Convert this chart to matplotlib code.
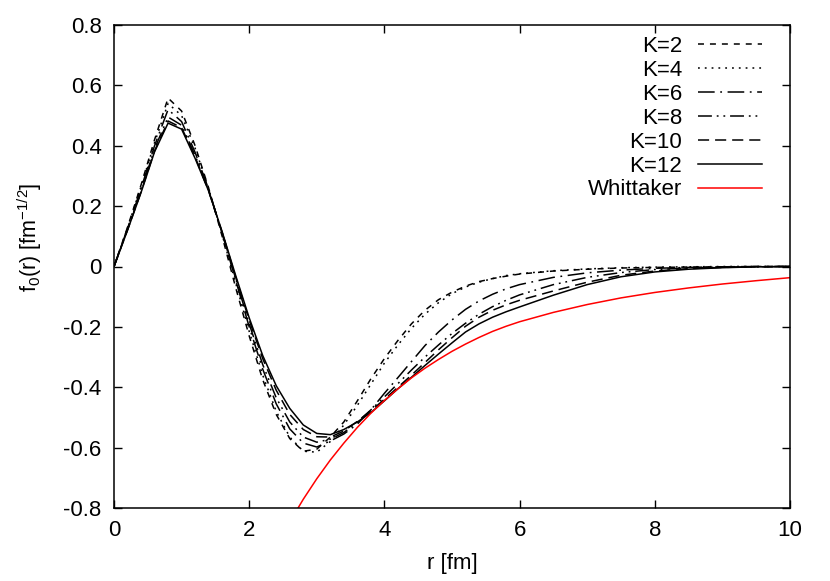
import matplotlib
matplotlib.use("Agg")
import matplotlib.pyplot as plt

plt.rcParams['font.family'] = ['Liberation Sans', 'DejaVu Sans']
plt.rcParams['mathtext.default'] = 'regular'
plt.rcParams['axes.unicode_minus'] = False
plt.rcParams['lines.scale_dashes'] = False

# radial grid [fm]
r = [0.0, 0.2, 0.4, 0.6, 0.8, 1.0, 1.2, 1.4, 1.6, 1.8,
     2.0, 2.2, 2.4, 2.6, 2.8, 3.0, 3.2, 3.4, 3.6, 3.8,
     4.0, 4.2, 4.4, 4.6, 4.8, 5.0, 5.2, 5.4, 5.6, 5.8,
     6.0, 6.5, 7.0, 7.5, 8.0, 8.5, 9.0, 9.5, 10.0]

k2 = [0.0, 0.130, 0.270, 0.420, 0.558, 0.515, 0.400, 0.260, 0.100, -0.070,
      -0.230, -0.375, -0.490, -0.570, -0.612, -0.605, -0.565, -0.515, -0.445, -0.372,
      -0.305, -0.245, -0.190, -0.145, -0.110, -0.085, -0.065, -0.050, -0.040, -0.032,
      -0.025, -0.015, -0.009, -0.005, -0.003, -0.002, -0.001, 0.0, 0.0]

k4 = [0.0, 0.128, 0.265, 0.410, 0.540, 0.500, 0.392, 0.258, 0.105, -0.055,
      -0.215, -0.360, -0.480, -0.565, -0.612, -0.615, -0.580, -0.525, -0.460, -0.390,
      -0.320, -0.260, -0.205, -0.158, -0.120, -0.090, -0.068, -0.052, -0.040, -0.030,
      -0.024, -0.014, -0.008, -0.004, -0.002, -0.001, 0.0, 0.0, 0.0]

k6 = [0.0, 0.126, 0.258, 0.400, 0.520, 0.480, 0.378, 0.256, 0.110, -0.045,
      -0.200, -0.340, -0.455, -0.538, -0.585, -0.598, -0.578, -0.555, -0.522, -0.475,
      -0.420, -0.368, -0.315, -0.262, -0.217, -0.177, -0.142, -0.114, -0.092, -0.074,
      -0.060, -0.036, -0.021, -0.012, -0.006, -0.003, -0.001, 0.0, 0.0]

k8 = [0.0, 0.123, 0.250, 0.390, 0.495, 0.468, 0.368, 0.252, 0.112, -0.040,
      -0.190, -0.325, -0.435, -0.515, -0.565, -0.582, -0.572, -0.550, -0.515, -0.475,
      -0.432, -0.388, -0.343, -0.300, -0.260, -0.222, -0.188, -0.158, -0.133, -0.112,
      -0.094, -0.060, -0.036, -0.020, -0.010, -0.005, -0.002, -0.001, 0.0]

k10 = [0.0, 0.121, 0.247, 0.383, 0.482, 0.460, 0.363, 0.250, 0.113, -0.035,
       -0.178, -0.305, -0.410, -0.490, -0.540, -0.564, -0.565, -0.545, -0.513, -0.478,
       -0.440, -0.400, -0.360, -0.318, -0.276, -0.236, -0.198, -0.168, -0.145, -0.127,
       -0.112, -0.081, -0.052, -0.029, -0.015, -0.007, -0.003, -0.001, 0.0]

k12 = [0.0, 0.120, 0.245, 0.380, 0.475, 0.455, 0.358, 0.250, 0.115, -0.030,
       -0.170, -0.295, -0.395, -0.470, -0.525, -0.553, -0.557, -0.540, -0.515, -0.484,
       -0.445, -0.405, -0.367, -0.328, -0.290, -0.253, -0.217, -0.190, -0.168, -0.150,
       -0.134, -0.095, -0.060, -0.034, -0.018, -0.009, -0.004, -0.001, 0.0]

r_w = [2.6, 2.8, 3.0, 3.2, 3.4, 3.6, 3.8, 4.0, 4.2, 4.4,
       4.6, 4.8, 5.0, 5.2, 5.4, 5.6, 5.8, 6.0, 6.5, 7.0,
       7.5, 8.0, 8.5, 9.0, 9.5, 10.0]
whittaker = [-0.846, -0.771, -0.703, -0.641, -0.585, -0.533, -0.486, -0.444, -0.405, -0.369,
             -0.337, -0.308, -0.281, -0.257, -0.235, -0.215, -0.198, -0.183, -0.152, -0.126,
             -0.104, -0.086, -0.071, -0.058, -0.047, -0.037]

xticks = [0, 2, 4, 6, 8, 10]
yticks = [-0.8, -0.6, -0.4, -0.2, 0, 0.2, 0.4, 0.6, 0.8]
ytick_labels = ['-0.8', '-0.6', '-0.4', '-0.2', '0', '0.2', '0.4', '0.6', '0.8']

fig = plt.figure(figsize=(8.3, 5.81), dpi=100)
ax = fig.add_axes([114/830, 1 - 508/581, 676/830, 483/581])

lw = 1.1
ax.plot(r, k2, color='black', lw=lw, dashes=(4.3, 4.3), label='K=2')
ax.plot(r, k4, color='black', lw=lw, dashes=(1.3, 3.6), label='K=4')
ax.plot(r, k6, color='black', lw=lw, dashes=(12, 4, 1.3, 4), label='K=6')
ax.plot(r, k8, color='black', lw=lw, dashes=(10, 3.5, 1.3, 3.5, 1.3, 3.5), label='K=8')
ax.plot(r, k10, color='black', lw=lw, dashes=(8, 4.3), label='K=10')
ax.plot(r, k12, color='black', lw=lw, label='K=12')
ax.plot(r_w, whittaker, color='#ff0000', lw=lw, label='Whittaker')

ax.set_xlim(0, 10)
ax.set_ylim(-0.8, 0.8)
ax.set_xticks(xticks)
ax.set_yticks(yticks)
ax.set_yticklabels(ytick_labels)
ax.tick_params(direction='in', length=6, width=1, top=True, right=True,
               labelsize=16, pad=9)
for s in ax.spines.values():
    s.set_linewidth(1.1)

ax.set_xlabel('r [fm]', fontsize=16, labelpad=8)
ax.set_ylabel(r'f$_0$(r) [fm$^{-1/2}$]', fontsize=15.5)
ax.yaxis.set_label_coords(-0.104, 0.561)

ax.legend(loc='upper right', bbox_to_anchor=(0.9586, 0.977), frameon=False,
          markerfirst=False, fontsize=16, handlelength=2.9, handletextpad=0.7,
          labelspacing=0.13, borderpad=0, borderaxespad=0)

fig.savefig('out.png', dpi=100)
